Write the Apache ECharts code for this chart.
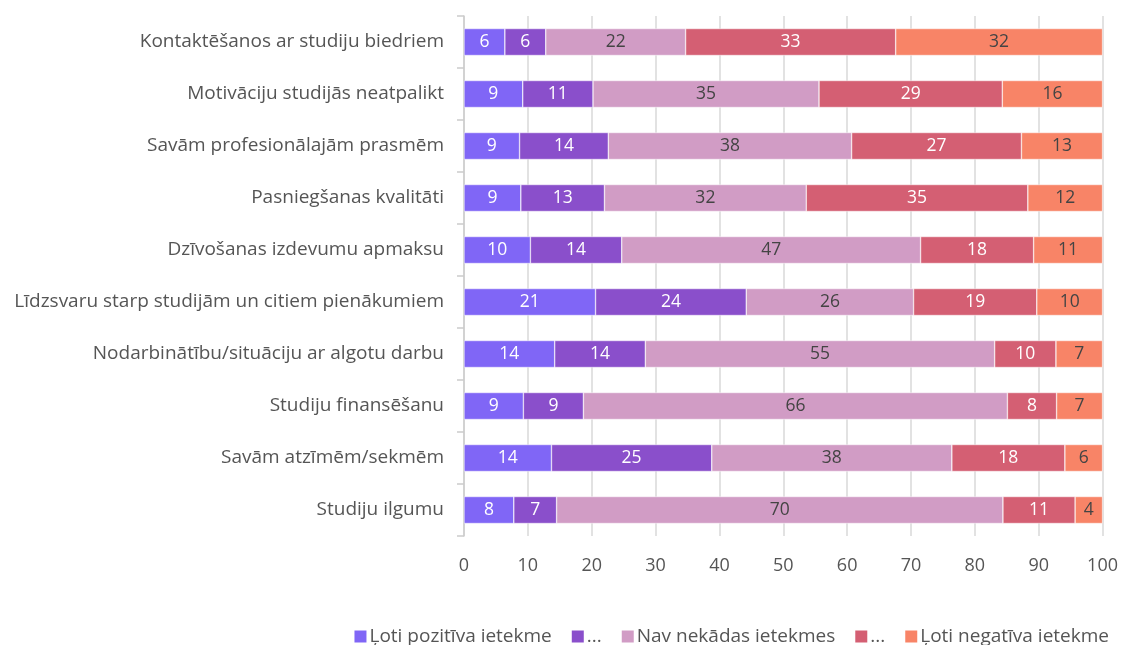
<!DOCTYPE html>
<html>
<head>
<meta charset="utf-8">
<script src="https://cdn.jsdelivr.net/npm/echarts@6/dist/echarts.min.js"></script>
<style>html,body{margin:0;padding:0;background:#fff}#c{width:1121px;height:645px}</style>
</head>
<body>
<div id="c"></div>
<script>
const categories = [
  "Kontaktēšanos ar studiju biedriem",
  "Motivāciju studijās neatpalikt",
  "Savām profesionālajām prasmēm",
  "Pasniegšanas kvalitāti",
  "Dzīvošanas izdevumu apmaksu",
  "Līdzsvaru starp studijām un citiem pienākumiem",
  "Nodarbinātību/situāciju ar algotu darbu",
  "Studiju finansēšanu",
  "Savām atzīmēm/sekmēm",
  "Studiju ilgumu"
];
const seriesNames = ["Ļoti pozitīva ietekme", "...", "Nav nekādas ietekmes", "... ", "Ļoti negatīva ietekme"];
const veryPositive = [6.4, 9.2, 8.7, 8.9, 10.4, 20.6, 14.2, 9.3, 13.7, 7.8];
const positive     = [6.4, 11.0, 13.9, 13.1, 14.3, 23.6, 14.2, 9.4, 25.1, 6.7];
const noEffect     = [21.9, 35.4, 38.1, 31.6, 46.8, 26.2, 54.7, 66.4, 37.6, 69.9];
const negative     = [32.9, 28.7, 26.6, 34.7, 17.7, 19.3, 9.6, 7.7, 17.7, 11.3];
const veryNegative = [32.4, 15.7, 12.7, 11.7, 10.8, 10.3, 7.3, 7.2, 5.9, 4.3];
const xTicks = [0, 10, 20, 30, 40, 50, 60, 70, 80, 90, 100];

const colors = ["#8066f6", "#8a4fcb", "#d19cc5", "#d45f73", "#f88467"];
const labelColors = ["#ffffff", "#ffffff", "#444444", "#ffffff", "#444444"];
const allData = [veryPositive, positive, noEffect, negative, veryNegative];
const FONT = "Open Sans";

const chart = echarts.init(document.getElementById('c'), null, {renderer: 'canvas'});
chart.setOption({
  animation: false,
  textStyle: {fontFamily: FONT},
  grid: {left: 464, right: 17, top: 16, height: 520, containLabel: false},
  xAxis: {
    type: 'value', min: xTicks[0], max: xTicks[xTicks.length - 1], interval: 10,
    axisLine: {show: false}, axisTick: {show: false},
    splitLine: {show: true, lineStyle: {color: '#d9d9d9', width: 1.5}},
    axisLabel: {color: '#555', fontSize: 18, fontFamily: FONT, margin: 21,
      formatter: v => xTicks.includes(v) ? String(v) : ''}
  },
  yAxis: {
    type: 'category', data: categories, inverse: true,
    axisLine: {show: true, lineStyle: {color: '#cccccc', width: 1.5}},
    axisTick: {show: true, length: 7, lineStyle: {color: '#cccccc', width: 1.5}},
    axisLabel: {color: '#555', fontSize: 19, fontFamily: FONT, margin: 20}
  },
  legend: {
    right: 7, bottom: -6, itemWidth: 14, itemHeight: 14, itemGap: 18,
    icon: 'rect',
    textStyle: {color: '#555', fontSize: 19, fontFamily: FONT, padding: [0, 0, 0, -3]},
    data: seriesNames,
    formatter: n => n.trim()
  },
  series: seriesNames.map((name, i) => ({
    name: name, type: 'bar', stack: 'total', barWidth: 27,
    itemStyle: {color: colors[i], borderColor: '#ffffff', borderWidth: 0.5},
    label: {show: true, position: 'inside', color: labelColors[i], fontSize: 17.5, fontFamily: FONT,
      formatter: p => String(Math.round(p.value))},
    data: allData[i]
  }))
});
</script>
</body>
</html>
